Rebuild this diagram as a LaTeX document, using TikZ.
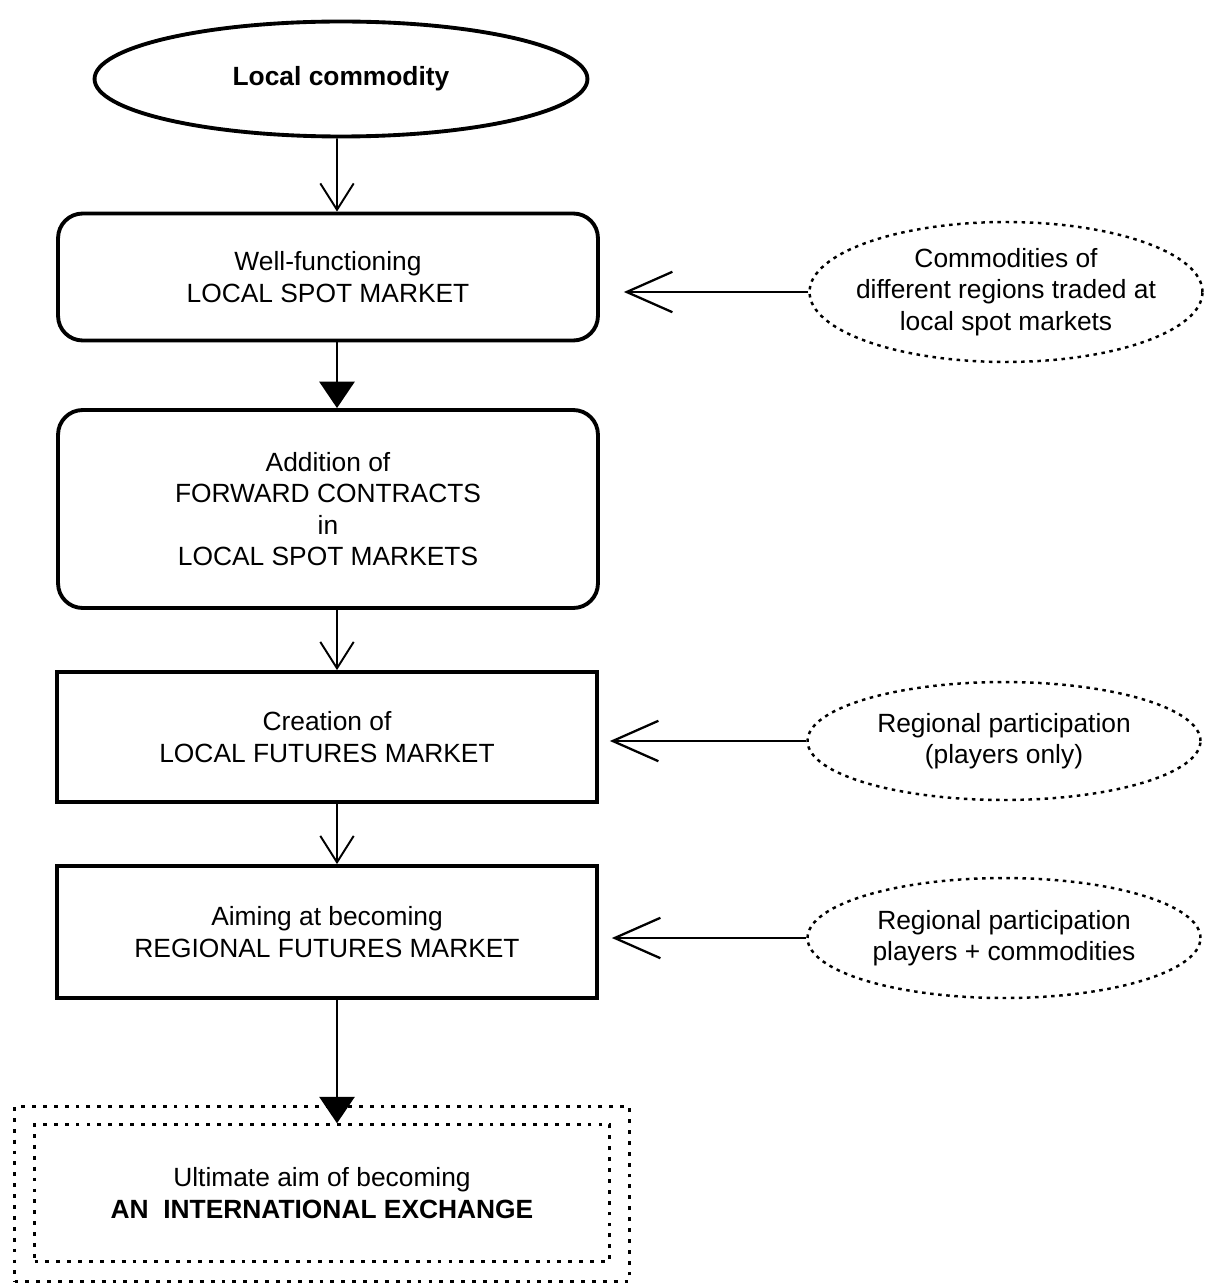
\documentclass[tikz,border=0pt]{standalone}
\usepackage{fontspec}
\setmainfont{Liberation Sans}
\usetikzlibrary{shapes.geometric,arrows.meta}
\begin{document}
\begin{tikzpicture}[x=0.02cm,y=-0.02cm,
  txt/.style={align=center,font=\fontsize{15}{17.8}\selectfont,inner sep=0pt},
  box/.style={txt,draw,line width=2.2pt,minimum width=10.8cm},
  rbox/.style={box,rounded corners=14pt},
  cloud/.style={txt,ellipse,draw,line width=1.4pt,dash pattern=on 2pt off 2.6pt,minimum width=7.86cm,inner xsep=-0.5cm},
  dotbox/.style={draw,line width=1.4pt,dash pattern=on 2.2pt off 4pt,inner sep=0pt},
  conn/.style={line width=1.1pt},
  openarr/.style={conn,-{Straight Barb[length=15pt,width=19pt,line width=1.1pt]}},
  openh/.style={conn,-{Straight Barb[length=26pt,width=23pt,line width=1.3pt]}},
  fillarr/.style={conn,-{Triangle[length=15pt,width=20pt]}}]
\useasboundingbox (0,0) rectangle (1213,1287);

\node[txt,ellipse,draw,line width=2.2pt,minimum width=9.86cm,minimum height=2.3cm,font=\fontsize{15}{18}\selectfont\bfseries] (top) at (341,79) {Local commodity};

\node[rbox,minimum height=2.54cm] (b1) at (328,277) {Well-functioning\\LOCAL SPOT MARKET};
\node[rbox,minimum height=3.96cm] (b2) at (328,509) {Addition of\\FORWARD CONTRACTS\\in\\LOCAL SPOT MARKETS};
\node[box,minimum height=2.6cm] (b3) at (327,737) {Creation of\\LOCAL FUTURES MARKET};
\node[box,minimum height=2.64cm] (b4) at (327,932) {Aiming at becoming\\REGIONAL FUTURES MARKET};

\node[dotbox,minimum width=12.3cm,minimum height=3.5cm] (outer) at (322,1194) {};
\node[dotbox,txt,minimum width=11.5cm,minimum height=2.74cm] (inner) at (322,1193) {Ultimate aim of becoming\\\textbf{AN\ \ INTERNATIONAL EXCHANGE}};

\node[cloud,minimum height=2.8cm] (c1) at (1006,292) {Commodities of\\different regions traded at\\local spot markets};
\node[cloud,minimum height=2.36cm] (c2) at (1004,741) {Regional participation\\(players only)};
\node[cloud,minimum height=2.4cm] (c3) at (1004,938) {Regional participation\\players + commodities};

\draw[openarr] ([xshift=-0.08cm]top.south) -- ([xshift=0.18cm]b1.north);
\draw[fillarr] ([xshift=0.18cm]b1.south) -- ([xshift=0.18cm]b2.north);
\draw[openarr] ([xshift=0.18cm]b2.south) -- ([xshift=0.2cm]b3.north);
\draw[openarr] ([xshift=0.2cm]b3.south) -- ([xshift=0.2cm]b4.north);
\draw[fillarr] ([xshift=0.2cm]b4.south) -- ([xshift=0.3cm]inner.north);

\draw[openh] (c1.west) -- ([xshift=0.48cm]b1.east |- c1.west);
\draw[openh] (c2.west) -- ([xshift=0.22cm]b3.east |- c2.west);
\draw[openh] (c3.west) -- ([xshift=0.26cm]b4.east |- c3.west);
\end{tikzpicture}
\end{document}
